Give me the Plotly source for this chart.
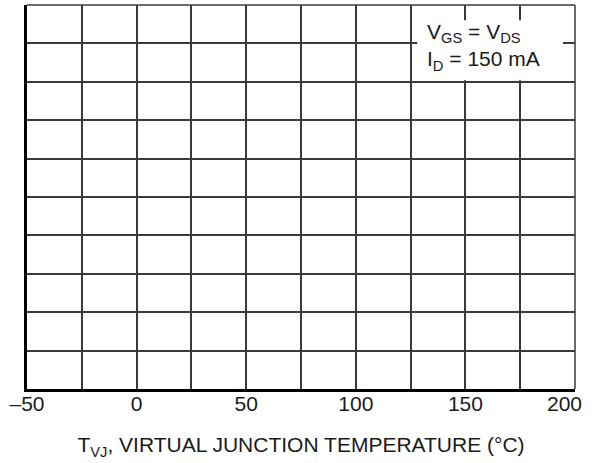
import plotly.graph_objects as go

# Axis data
x_range = [-50, 200]
x_grid_ticks = [-50, -25, 0, 25, 50, 75, 100, 125, 150, 175, 200]
x_tick_text = ["\u201350", "", "0", "", "50", "", "100", "", "150", "", ""]
last_tick_label = "200"  # drawn separately, nudged left as in the reference
y_range = [0, 10]
y_dtick = 1

x_title = "T<sub>VJ</sub>, VIRTUAL JUNCTION TEMPERATURE (\u00b0C)"
note_text = "V<sub>GS</sub> = V<sub>DS</sub><br>I<sub>D</sub> = 150 mA"

FONT = "Liberation Sans, Arial, sans-serif"
GRID = "#3a3a3a"
TXT = "#1a1a1a"

fig = go.Figure()
fig.add_trace(go.Scatter(x=[], y=[], mode="lines", showlegend=False))

fig.update_layout(
    width=595, height=463,
    margin=dict(l=27, r=20, t=5, b=74, autoexpand=False),
    paper_bgcolor="white", plot_bgcolor="white",
    font=dict(family=FONT, size=21, color=TXT),
    showlegend=False,
    xaxis=dict(
        range=x_range, tickmode="array", tickvals=x_grid_ticks, ticktext=x_tick_text,
        showgrid=True, gridcolor=GRID, gridwidth=1.5, zeroline=False,
        showline=True, linecolor="black", linewidth=2.5, ticks="",
        automargin=False, ticklabelstandoff=-6,
        title=dict(text=x_title, font=dict(size=21), standoff=24),
        tickfont=dict(size=21),
    ),
    yaxis=dict(
        range=y_range, dtick=y_dtick, showticklabels=False, automargin=False,
        showgrid=True, gridcolor=GRID, gridwidth=1.5, zeroline=False,
        showline=True, linecolor="black", linewidth=2.5, ticks="",
    ),
    shapes=[
        dict(type="rect", xref="paper", yref="paper", x0=0.712, x1=0.978, y0=0.804, y1=0.96,
             fillcolor="white", line=dict(width=0), layer="above"),
        dict(type="line", xref="paper", yref="paper", x0=0, x1=1, y0=1, y1=1,
             line=dict(color=GRID, width=1.5), layer="above"),
        dict(type="line", xref="paper", yref="paper", x0=1, x1=1, y0=0, y1=1,
             line=dict(color=GRID, width=1.5), layer="above"),
    ],
    annotations=[
        dict(text=note_text, xref="paper", yref="paper", x=0.726, y=0.967,
             xanchor="left", yanchor="top", align="left", showarrow=False,
             font=dict(size=21, color=TXT)),
        dict(text=last_tick_label, xref="x", yref="paper", x=x_grid_ticks[-1], y=0,
             xanchor="center", yanchor="middle", xshift=-11, yshift=-14,
             showarrow=False, font=dict(size=21, color=TXT)),
    ],
)

fig.write_html("out.html", config={"displayModeBar": False},
               post_script="document.body.style.margin='0';document.body.style.padding='0';")
